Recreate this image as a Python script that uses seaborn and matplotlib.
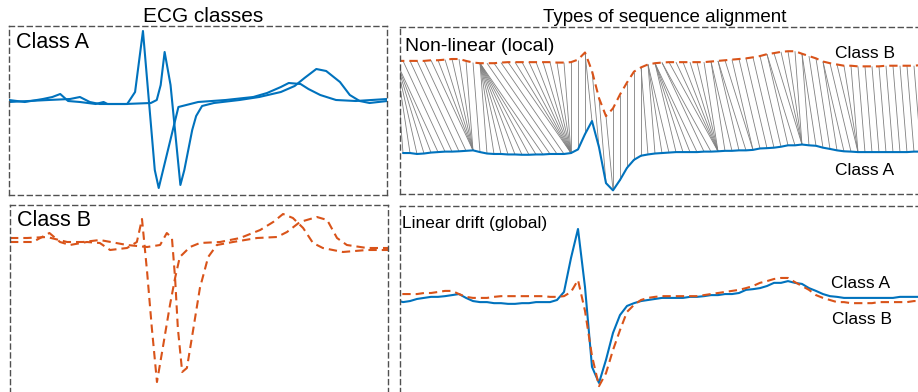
import numpy as np
import pandas as pd
import matplotlib
matplotlib.use("Agg")
import matplotlib.pyplot as plt
from matplotlib.collections import LineCollection
import seaborn as sns

# ---------------- data ----------------
# Left panels: two recordings of each class (sample index, amplitude)
a1_t = [0, 4, 8.6, 11, 13, 15, 18, 22, 24, 25, 30, 32, 34, 37, 38, 43, 48, 55, 62,
        65.5, 69, 71, 74, 76, 79, 83, 88, 96]
a1_v = [0, -0.08, 0.04, 0.12, 0.24, -0.04, -0.08, -0.16, -0.08, -0.16, -0.16, 0.32,
        2.76, -2.8, -3.52, -0.28, -0.08, 0, 0.12, 0.28, 0.52, 0.68, 0.64, 0.44, 0.2,
        0, -0.04, 0.04]
a2_t = [0, 5, 10, 15.5, 18, 20.5, 23, 29.5, 36, 37.5, 38.5, 39.5, 41, 43.5, 44.5,
        46.5, 47.5, 49, 52, 58.5, 63.5, 69, 72.5, 75, 78, 80.5, 84, 86.5, 89, 91.5, 96]
a2_v = [-0.08, -0.04, 0, 0.04, 0.12, -0.08, -0.16, -0.16, -0.12, 0, 0.6, 1.92, 0.6,
        -3.4, -2.8, -1.2, -0.64, -0.24, -0.12, 0, 0.12, 0.32, 0.56, 0.88, 1.24, 1.16,
        0.72, 0.2, -0.04, -0.12, -0.04]
b1_t = [0, 5.8, 10, 12.7, 15.2, 19.5, 22.8, 25.4, 29.7, 32.2, 33.5, 34.8, 36, 37.3,
        38.6, 40.6, 41.9, 43.1, 45.7, 48.2, 53.3, 58.4, 63.5, 66.8, 69.3, 71.8, 74.4,
        76.9, 79.4, 84.5, 90.6, 96]
b1_v = [-0.08, -0.08, 0.28, -0.08, -0.2, -0.08, -0.12, -0.4, -0.32, -0.08, 0.84,
        -1.28, -3.52, -5.68, -4.48, -2.6, -1.52, -0.68, -0.28, -0.12, -0.08, 0.08, 0.4,
        0.72, 1.04, 0.88, 0.48, -0.12, -0.32, -0.48, -0.4, -0.4]
b2_t = [0, 4.3, 9.4, 14.5, 18.5, 22.8, 29.7, 34.8, 38.1, 39.8, 41.1, 41.9, 42.6, 43.7,
        44.9, 46.4, 48.2, 50.3, 52.5, 56.6, 62.7, 67.8, 70.3, 73.6, 77.9, 80.5, 83,
        85.5, 90.6, 96]
b2_v = [0.08, 0.08, 0.12, -0.08, -0.08, 0, -0.2, -0.28, -0.2, 0.28, 0.08, -1.52,
        -3.52, -5.28, -5.12, -3.68, -1.92, -0.68, -0.2, -0.08, 0.08, 0.12, 0.32, 0.72,
        0.92, 0.8, 0.08, -0.2, -0.32, -0.32]

# Right panels: one series per class, uniformly sampled
seq_t = np.arange(-2, 75)
seq_a = [0.0, 0.0,
         -0.06, -0.03, 0.03, 0.06, 0.09, 0.09, 0.11, 0.14, 0.17, 0.06,
         -0.03, -0.06, -0.06, -0.09, -0.09, -0.11, -0.11, -0.09, -0.09, -0.06,
         -0.06, -0.06, 0.0, 0.23, 1.2, 2.03, 0.37, -1.91, -2.37, -1.71,
         -0.94, -0.43, -0.17, -0.09, -0.03, 0.0, 0.03, 0.06, 0.06, 0.06,
         0.06, 0.09, 0.09, 0.11, 0.14, 0.14, 0.17, 0.17, 0.2, 0.29,
         0.31, 0.34, 0.4, 0.49, 0.49, 0.54, 0.49, 0.46, 0.34, 0.26,
         0.17, 0.11, 0.09, 0.06, 0.06, 0.06, 0.06, 0.06, 0.06, 0.06,
         0.06, 0.09, 0.09, 0.09, 0.09]
seq_b = [0.17, 0.17,
         0.17, 0.17, 0.17, 0.2, 0.2, 0.23, 0.26, 0.26, 0.17, 0.09,
         0.06, 0.06, 0.06, 0.09, 0.11, 0.11, 0.11, 0.11, 0.11, 0.11,
         0.11, 0.09, 0.09, 0.11, 0.23, 0.57, -0.31, -1.6, -2.46, -2.09,
         -1.43, -0.86, -0.34, -0.14, 0.0, 0.06, 0.09, 0.11, 0.11, 0.11,
         0.11, 0.11, 0.11, 0.14, 0.17, 0.2, 0.23, 0.26, 0.29, 0.34,
         0.4, 0.49, 0.54, 0.6, 0.63, 0.63, 0.51, 0.4, 0.29, 0.14,
         0.06, 0.0, -0.06, -0.06, -0.09, -0.09, -0.09, -0.09, -0.06, -0.06,
         -0.06, -0.06, -0.06, -0.03, -0.03]

titles = ["ECG classes", "Types of sequence alignment"]

# ---------------- style ----------------
sns.set_style("white")
plt.rcParams['font.family'] = ['Liberation Sans', 'DejaVu Sans']

W, H = 918, 392
fig = plt.figure(figsize=(W / 100, H / 100), dpi=100)
BLUE = '#0072BD'
ORANGE = '#D95319'
BOX = '#505050'
DASH = (0, (4, 2.4))
LW = 1.5


def px_axes(x0, y0, x1, y1):
    return fig.add_axes([x0 / W, 1 - y1 / H, (x1 - x0) / W, (y1 - y0) / H])


def style_box(ax):
    ax.set_xticks([])
    ax.set_yticks([])
    ax.set_xlabel('')
    ax.set_ylabel('')
    for s in ax.spines.values():
        s.set_visible(True)
        s.set_linestyle((0, (3.6, 2.8)))
        s.set_linewidth(1.0)
        s.set_edgecolor(BOX)
    ax.patch.set_alpha(0)


def long_df(pairs):
    frames = []
    for k, (t, v) in enumerate(pairs):
        frames.append(pd.DataFrame({'t': np.asarray(t, float),
                                    'v': np.asarray(v, float), 'rec': k}))
    return pd.concat(frames, ignore_index=True)


def lines(ax, df, color, dashed=False):
    kw = dict(data=df, x='t', y='v', units='rec', color=color, linewidth=LW,
              estimator=None, sort=False, legend=False, ax=ax)
    if dashed:
        kw['linestyle'] = DASH
    sns.lineplot(**kw)


def ftext(x, y, s, size, ha='left'):
    fig.text(x / W, 1 - y / H, s, fontsize=size, ha=ha, va='baseline', color='black')


# ---- top-left: class A ----
ax_tl = px_axes(9, 26, 387, 195)
lines(ax_tl, long_df([(a1_t, a1_v), (a2_t, a2_v)]), BLUE)
ax_tl.set_xlim(0, 95.94)
ax_tl.set_ylim(-3.8, 2.96)
style_box(ax_tl)

# ---- bottom-left: class B ----
ax_bl = px_axes(10, 205, 388, 400)
lines(ax_bl, long_df([(b1_t, b1_v), (b2_t, b2_v)]), ORANGE, dashed=True)
ax_bl.set_xlim(0, 95.94)
ax_bl.set_ylim(-6.4, 1.4)
style_box(ax_bl)

# ---- top-right: DTW (non-linear) alignment ----
a = np.asarray(seq_a, float)
b = np.asarray(seq_b, float)
n, m = len(a), len(b)
cost = (a[:, None] - b[None, :]) ** 2
D = np.full((n + 1, m + 1), np.inf)
D[0, 0] = 0.0
for i in range(1, n + 1):
    for j in range(1, m + 1):
        D[i, j] = cost[i - 1, j - 1] + min(D[i - 1, j], D[i, j - 1], D[i - 1, j - 1])
i, j = n, m
path = []
while i > 0 and j > 0:
    path.append((i - 1, j - 1))
    k = int(np.argmin([D[i - 1, j - 1], D[i - 1, j], D[i, j - 1]]))
    if k == 0:
        i -= 1
        j -= 1
    elif k == 1:
        i -= 1
    else:
        j -= 1
path = path[::-1]

ax_tr = px_axes(400, 27, 930, 194)
xa = seq_t + 2.0
ya = 0.45 * a
xb = seq_t + 1.0
yb = 0.6 * b + 2.53
segs = [[(xa[p], ya[p]), (xb[q], yb[q])] for p, q in path]
ax_tr.add_collection(LineCollection(segs, colors='#808080', linewidths=0.6, zorder=1))
lines(ax_tr, long_df([(xa, ya)]), BLUE)
lines(ax_tr, long_df([(xb, yb)]), ORANGE, dashed=True)
ax_tr.set_xlim(-0.43, 75.29)
ax_tr.set_ylim(-1.17, 3.6)
style_box(ax_tr)

# ---- bottom-right: linear drift ----
ax_br = px_axes(400, 206, 930, 400)
lines(ax_br, long_df([(seq_t, seq_a)]), BLUE)
lines(ax_br, long_df([(seq_t, seq_b)]), ORANGE, dashed=True)
ax_br.set_xlim(-0.43, 75.29)
ax_br.set_ylim(-2.857, 2.686)
style_box(ax_br)

# ---- texts ----
ftext(203, 22, titles[0], 15, ha='center')
ftext(665, 22, titles[1], 13.5, ha='center')
ftext(16, 48, "Class A", 15.5)
ftext(17, 226, "Class B", 15.5)
ftext(405, 51, "Non-linear (local)", 14)
ftext(835, 58, "Class B", 12.5)
ftext(835, 175, "Class A", 12.5)
ftext(402, 228, "Linear drift (global)", 12.5)
ftext(831, 288, "Class A", 12.5)
ftext(832, 324, "Class B", 12.5)

fig.savefig("out.png", dpi=100)
